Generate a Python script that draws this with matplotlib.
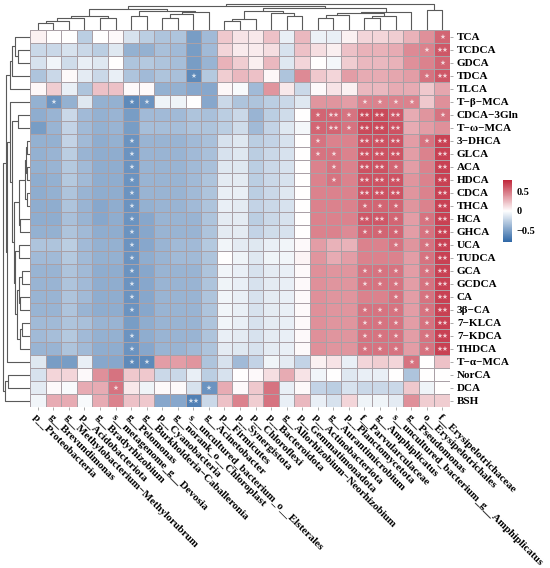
import numpy as np
import matplotlib
matplotlib.use("Agg")
import matplotlib.pyplot as plt
from matplotlib.colors import LinearSegmentedColormap, Normalize
from matplotlib.cm import ScalarMappable

# ---------------- data ----------------
row_labels = ["TCA", "TCDCA", "GDCA", "TDCA", "TLCA", "T\u2212\u03b2\u2212MCA", "CDCA\u22123Gln",
              "T\u2212\u03c9\u2212MCA", "3\u2212DHCA", "GLCA", "ACA", "HDCA", "CDCA", "THCA", "HCA",
              "GHCA", "UCA", "TUDCA", "GCA", "GCDCA", "CA", "3\u03b2\u2212CA", "7\u2212KLCA",
              "7\u2212KDCA", "THDCA", "T\u2212\u03b1\u2212MCA", "NorCA", "DCA", "BSH"]

col_labels = ["p__Proteobacteria", "g__Brevundimonas", "g__Methylobacterium\u2212Methylorubrum",
              "p__Acidobacteriota", "g__Bradyrhizobium", "s__metagenome_g__Devosia", "g__Pelomonas",
              "g__Burkholderia\u2212Caballeronia", "p__Cyanobacteria", "g__norank_o__Chloroplast",
              "s__uncultured_bacterium_o__Elsterales", "g__Acinetobacter", "p__Firmicutes",
              "p__Synergistota", "p__Chloroflexi", "p__Bacteroidota", "g__Allorhizobium\u2212Neorhizobium",
              "p__Gemmatimonadota", "p__Actinobacteriota", "g__Aurantimicrobium", "p__Planctomycetota",
              "f__Parvularculaceae", "g__Amphiplicatus", "s__uncultured_bacterium_g__Amphiplicatus",
              "g__Pseudomonas", "o__Erysipelotrichales", "f__Erysipelotrichaceae"]

r_TCA = [0.05, 0.0, 0.0, -0.25, 0.0, 0.02, -0.15, -0.25, -0.3, -0.3, -0.5, -0.35, 0.2, 0.1, 0.08, 0.22, -0.08, 0.25, -0.07, -0.08, 0.05, 0.15, 0.15, 0.18, 0.28, 0.4, 0.55]
r_TCDCA = [-0.2, -0.2, -0.15, -0.2, -0.25, -0.12, -0.4, -0.4, -0.32, -0.35, -0.5, -0.35, 0.15, 0.07, 0.07, 0.12, -0.15, 0.22, 0.12, 0.06, 0.22, 0.28, 0.28, 0.3, 0.42, 0.45, 0.6]
r_GDCA = [-0.15, -0.05, -0.18, -0.08, -0.12, 0.0, -0.3, -0.28, -0.3, -0.33, -0.5, -0.38, 0.28, 0.18, 0.06, 0.25, -0.12, 0.15, 0.0, -0.04, 0.18, 0.25, 0.25, 0.28, 0.4, 0.45, 0.55]
r_TDCA = [-0.3, -0.2, 0.02, -0.1, -0.2, -0.08, -0.3, -0.35, -0.3, -0.32, -0.6, -0.28, 0.18, 0.25, 0.22, 0.03, -0.3, 0.42, 0.2, 0.15, 0.35, 0.3, 0.3, 0.32, 0.35, 0.5, 0.6]
r_TLCA = [0.03, 0.18, -0.08, -0.3, 0.22, 0.22, 0.02, 0.02, -0.4, -0.4, -0.45, -0.45, 0.03, -0.03, -0.35, 0.38, 0.08, -0.2, 0.02, 0.1, 0.05, 0.25, 0.25, 0.3, 0.3, 0.2, 0.32]
r_TbMCA = [-0.4, -0.55, -0.4, -0.12, -0.4, -0.4, -0.6, -0.55, -0.06, -0.06, 0.0, -0.45, -0.2, -0.3, -0.3, -0.25, -0.2, -0.12, 0.38, 0.38, 0.35, 0.45, 0.45, 0.45, 0.45, 0.2, 0.4]
r_CDCA3Gln = [-0.42, -0.38, -0.2, -0.35, -0.4, -0.38, -0.5, -0.35, -0.35, -0.35, -0.3, -0.32, -0.25, -0.2, -0.38, -0.25, -0.18, 0.0, 0.55, 0.55, 0.5, 0.65, 0.65, 0.6, 0.3, 0.38, 0.5]
r_TwMCA = [-0.5, -0.38, -0.22, -0.35, -0.4, -0.38, -0.5, -0.33, -0.33, -0.33, -0.3, -0.3, -0.25, -0.18, -0.35, -0.22, -0.12, -0.04, 0.55, 0.55, 0.5, 0.65, 0.65, 0.62, 0.3, 0.35, 0.4]
r_3DHCA = [-0.4, -0.4, -0.22, -0.35, -0.42, -0.4, -0.55, -0.38, -0.38, -0.38, -0.35, -0.32, -0.15, -0.12, -0.25, -0.22, -0.15, 0.0, 0.5, 0.45, 0.45, 0.62, 0.62, 0.62, 0.35, 0.5, 0.68]
r_GLCA = [-0.4, -0.38, -0.25, -0.38, -0.42, -0.42, -0.55, -0.38, -0.38, -0.38, -0.35, -0.32, -0.15, -0.12, -0.25, -0.2, -0.15, 0.0, 0.5, 0.5, 0.45, 0.62, 0.62, 0.62, 0.35, 0.45, 0.68]
r_ACA = [-0.4, -0.38, -0.28, -0.35, -0.42, -0.42, -0.55, -0.38, -0.38, -0.38, -0.35, -0.32, -0.12, -0.12, -0.25, -0.2, -0.15, 0.0, 0.45, 0.5, 0.45, 0.62, 0.62, 0.55, 0.35, 0.45, 0.68]
r_HDCA = [-0.42, -0.4, -0.28, -0.35, -0.42, -0.42, -0.55, -0.38, -0.38, -0.38, -0.35, -0.3, -0.1, -0.1, -0.25, -0.2, -0.15, 0.0, 0.45, 0.5, 0.45, 0.62, 0.62, 0.62, 0.38, 0.45, 0.68]
r_CDCA = [-0.42, -0.4, -0.3, -0.38, -0.42, -0.42, -0.55, -0.38, -0.38, -0.38, -0.35, -0.3, -0.08, -0.08, -0.25, -0.2, -0.12, 0.0, 0.45, 0.45, 0.45, 0.62, 0.62, 0.62, 0.38, 0.45, 0.68]
r_THCA = [-0.42, -0.42, -0.3, -0.38, -0.45, -0.42, -0.55, -0.4, -0.38, -0.38, -0.35, -0.3, -0.08, -0.1, -0.22, -0.2, -0.15, 0.0, 0.45, 0.45, 0.45, 0.55, 0.55, 0.55, 0.38, 0.45, 0.68]
r_HCA = [-0.42, -0.42, -0.32, -0.38, -0.45, -0.42, -0.55, -0.45, -0.38, -0.38, -0.38, -0.3, -0.1, -0.1, -0.25, -0.2, -0.15, 0.0, 0.45, 0.45, 0.45, 0.6, 0.6, 0.55, 0.35, 0.5, 0.68]
r_GHCA = [-0.4, -0.4, -0.3, -0.35, -0.42, -0.42, -0.55, -0.45, -0.38, -0.38, -0.38, -0.3, -0.1, -0.1, -0.22, -0.18, -0.15, 0.0, 0.45, 0.45, 0.42, 0.55, 0.55, 0.55, 0.35, 0.5, 0.68]
r_UCA = [-0.3, -0.3, -0.25, -0.35, -0.4, -0.4, -0.55, -0.45, -0.38, -0.35, -0.35, -0.28, -0.05, -0.1, -0.12, -0.08, -0.05, 0.02, 0.35, 0.28, 0.28, 0.45, 0.45, 0.5, 0.38, 0.5, 0.68]
r_TUDCA = [-0.35, -0.35, -0.28, -0.35, -0.4, -0.4, -0.55, -0.42, -0.38, -0.35, -0.35, -0.3, 0.0, -0.06, -0.12, -0.06, -0.05, 0.04, 0.38, 0.3, 0.35, 0.45, 0.45, 0.45, 0.35, 0.5, 0.68]
r_GCA = [-0.38, -0.38, -0.3, -0.35, -0.42, -0.42, -0.55, -0.45, -0.38, -0.38, -0.38, -0.3, -0.05, -0.08, -0.15, -0.1, -0.08, 0.02, 0.4, 0.38, 0.38, 0.5, 0.5, 0.5, 0.35, 0.5, 0.68]
r_GCDCA = [-0.38, -0.38, -0.3, -0.35, -0.42, -0.42, -0.55, -0.45, -0.38, -0.38, -0.38, -0.3, -0.06, -0.08, -0.15, -0.1, -0.08, 0.02, 0.4, 0.38, 0.38, 0.5, 0.5, 0.5, 0.35, 0.5, 0.68]
r_CA = [-0.38, -0.38, -0.3, -0.35, -0.42, -0.42, -0.55, -0.45, -0.38, -0.38, -0.38, -0.3, -0.05, -0.08, -0.15, -0.1, -0.08, 0.02, 0.4, 0.38, 0.38, 0.45, 0.45, 0.5, 0.35, 0.5, 0.68]
r_3bCA = [-0.38, -0.38, -0.3, -0.38, -0.42, -0.42, -0.55, -0.45, -0.38, -0.38, -0.38, -0.3, -0.05, -0.08, -0.15, -0.1, -0.08, 0.02, 0.4, 0.38, 0.38, 0.5, 0.5, 0.5, 0.35, 0.5, 0.68]
r_7KLCA = [-0.35, -0.35, -0.3, -0.32, -0.38, -0.38, -0.5, -0.42, -0.38, -0.38, -0.38, -0.3, -0.05, -0.08, -0.15, -0.1, -0.08, 0.02, 0.4, 0.38, 0.38, 0.5, 0.5, 0.5, 0.35, 0.5, 0.68]
r_7KDCA = [-0.35, -0.33, -0.28, -0.35, -0.4, -0.4, -0.55, -0.42, -0.38, -0.38, -0.38, -0.3, -0.08, -0.1, -0.15, -0.1, -0.08, 0.02, 0.4, 0.38, 0.38, 0.5, 0.5, 0.5, 0.35, 0.5, 0.68]
r_THDCA = [-0.38, -0.38, -0.3, -0.35, -0.42, -0.42, -0.55, -0.45, -0.38, -0.38, -0.35, -0.3, -0.1, -0.12, -0.15, -0.1, -0.08, 0.02, 0.4, 0.38, 0.38, 0.5, 0.5, 0.5, 0.35, 0.5, 0.68]
r_TaMCA = [-0.12, -0.5, -0.5, -0.08, -0.45, -0.45, -0.6, -0.6, 0.35, 0.35, 0.38, -0.3, -0.15, -0.35, -0.22, -0.06, -0.1, -0.22, 0.05, 0.1, -0.08, 0.15, 0.18, 0.15, 0.5, 0.0, 0.22]
r_NorCA = [-0.15, 0.15, 0.15, 0.02, 0.4, 0.5, 0.2, 0.2, -0.2, -0.2, -0.08, -0.25, -0.15, 0.0, 0.02, 0.12, 0.3, 0.1, -0.05, 0.0, -0.12, -0.08, -0.08, 0.0, -0.3, 0.0, 0.0]
r_DCA = [-0.1, 0.02, -0.03, 0.3, 0.3, 0.5, 0.08, -0.06, 0.02, 0.02, -0.15, -0.55, 0.3, 0.02, 0.2, 0.5, -0.08, 0.02, -0.22, -0.25, -0.15, -0.2, -0.2, -0.2, 0.2, -0.06, 0.0]
r_BSH = [-0.05, 0.3, 0.3, -0.03, 0.3, 0.45, 0.22, 0.2, -0.45, -0.45, -0.65, -0.2, 0.22, 0.45, 0.18, 0.5, -0.08, 0.25, -0.08, -0.15, 0.15, -0.06, -0.06, -0.1, 0.4, 0.18, 0.18]

values = [r_TCA, r_TCDCA, r_GDCA, r_TDCA, r_TLCA, r_TbMCA, r_CDCA3Gln, r_TwMCA, r_3DHCA, r_GLCA,
          r_ACA, r_HDCA, r_CDCA, r_THCA, r_HCA, r_GHCA, r_UCA, r_TUDCA, r_GCA, r_GCDCA, r_CA,
          r_3bCA, r_7KLCA, r_7KDCA, r_THDCA, r_TaMCA, r_NorCA, r_DCA, r_BSH]

# significance: '.' none, '1' = *, '2' = **
sig = ["..........................1",
       ".........................12",
       "..........................1",
       "..........1..............12",
       "...........................",
       ".1....11.............1111..",
       "..................121222..1",
       "..................121222...",
       "......1...........1..222.12",
       "......1...........11.222..2",
       "......1............1.221..2",
       "......1............1.222..2",
       "......1..............222..2",
       "......1..............111..2",
       "......1..............221.12",
       "......1..............111.12",
       "......1................1.12",
       "......1..................12",
       "......1..............111.12",
       "......1..............111.12",
       "......1................1.12",
       "......1..............111.12",
       ".....................111.12",
       "......1..............111.12",
       "......1..............111.12",
       "......11................1..",
       "...........................",
       ".....1.....1...............",
       "..........2................"]

# dendrogram trees: (left, right, height); leaves are indices
c01 = (0, 1, 0.26); c012 = (c01, 2, 0.36); c0123 = (c012, 3, 0.46); c45 = (4, 5, 0.46)
cA = (c0123, c45, 0.55); c67 = (6, 7, 0.55); c89 = (8, 9, 0.46); c8_10 = (c89, 10, 0.62)
c8_11 = (c8_10, 11, 0.70); cB = (c67, c8_11, 0.74); cL = (cA, cB, 0.81)
c12_13 = (12, 13, 0.33); c12_14 = (c12_13, 14, 0.42); c16_17 = (16, 17, 0.55); c15_17 = (15, c16_17, 0.64)
cR1 = (c12_14, c15_17, 0.74); c18_19 = (18, 19, 0.46); c18_20 = (c18_19, 20, 0.59)
c21_22 = (21, 22, 0.46); c21_23 = (c21_22, 23, 0.55); c18_23 = (c18_20, c21_23, 0.64)
cR2 = (c18_23, 24, 0.70); cY = (cR1, cR2, 0.85); cX = (cL, cY, 0.90); c25_26 = (25, 26, 0.77)
col_tree = (cX, c25_26, 1.0)

rA = (((0, (1, 2, 0.45), 0.55), 3, 0.65), 4, 0.72)
rB1 = ((((8, 9, 0.1), (10, 11, 0.1), 0.15), (12, 13, 0.12), 0.2), (14, 15, 0.35), 0.4)
rB2 = ((16, 17, 0.4), (((18, 19, 0.3), (20, 21, 0.35), 0.42), ((22, 23, 0.3), 24, 0.38), 0.48), 0.55)
rB = ((5, ((6, 7, 0.45), (rB1, rB2, 0.6), 0.68), 0.74), 25, 0.86)
rC = ((26, 27, 0.8), 28, 0.92)
row_tree = ((rA, rB, 0.9), rC, 1.0)

# ---------------- drawing ----------------
W, H = 550, 568
fig = plt.figure(figsize=(W / 100, H / 100), dpi=100)
FONT = "Liberation Serif"

cmap = LinearSegmentedColormap.from_list("bwr_ph", ["#2e67a6", "#ffffff", "#c0263a"])
norm = Normalize(vmin=-0.78, vmax=0.78)

hx0, hx1, hy0, hy1 = 30, 450, 30, 407
ax = fig.add_axes([hx0 / W, 1 - hy1 / H, (hx1 - hx0) / W, (hy1 - hy0) / H])
data = np.array(values)
nr, nc = data.shape
ax.pcolormesh(data, cmap=cmap, norm=norm, edgecolors="#aaa0a6", linewidth=0.5)
ax.set_xlim(0, nc)
ax.set_ylim(nr, 0)
for s in ax.spines.values():
    s.set_visible(False)

for i in range(nr):
    for j in range(nc):
        ch = sig[i][j]
        if ch != ".":
            ax.text(j + 0.5, i + 0.55, "\u2605" * int(ch), ha="center", va="center",
                    fontsize=4.8, color="white", alpha=0.75, family="DejaVu Sans")

ax.yaxis.tick_right()
ax.set_yticks(np.arange(nr) + 0.5)
ax.set_yticklabels(row_labels, fontfamily=FONT, fontweight="bold", fontsize=8.0)
ax.set_xticks(np.arange(nc) + 0.5)
ax.set_xticklabels(col_labels, rotation=-45, ha="left", va="top", rotation_mode="anchor",
                   fontfamily=FONT, fontweight="bold", fontsize=7.8)
ax.tick_params(axis="y", length=2, width=0.5, color="#888888", pad=3)
ax.tick_params(axis="x", length=2, width=0.5, color="#888888", pad=2)


def draw_tree(node, axd, orient):
    if isinstance(node, int):
        return node + 0.5, 0.0
    left, right, h = node
    pl, hl = draw_tree(left, axd, orient)
    pr, hr = draw_tree(right, axd, orient)
    if orient == "top":
        axd.plot([pl, pl, pr, pr], [hl, h, h, hr], color="#5a5a5a", lw=0.8, solid_capstyle="butt")
    else:
        axd.plot([hl, h, h, hr], [pl, pl, pr, pr], color="#5a5a5a", lw=0.8, solid_capstyle="butt")
    return (pl + pr) / 2, h


axt = fig.add_axes([hx0 / W, 1 - 30 / H, (hx1 - hx0) / W, 27 / H])
draw_tree(col_tree, axt, "top")
axt.set_xlim(0, nc)
axt.set_ylim(0, 1.03)
axt.axis("off")

axl = fig.add_axes([2 / W, 1 - hy1 / H, 28 / W, (hy1 - hy0) / H])
draw_tree(row_tree, axl, "left")
axl.set_ylim(nr, 0)
axl.set_xlim(1.03, 0)
axl.axis("off")

cax = fig.add_axes([503 / W, 1 - 242 / H, 9 / W, 62 / H])
cb = fig.colorbar(ScalarMappable(norm=norm, cmap=cmap), cax=cax, ticks=[-0.5, 0, 0.5])
cb.outline.set_visible(False)
cb.ax.set_yticklabels(["\u22120.5", "0", "0.5"], fontfamily=FONT, fontweight="bold", fontsize=7.5)
cb.ax.tick_params(length=0, pad=3)

fig.savefig("out.png", dpi=100)
